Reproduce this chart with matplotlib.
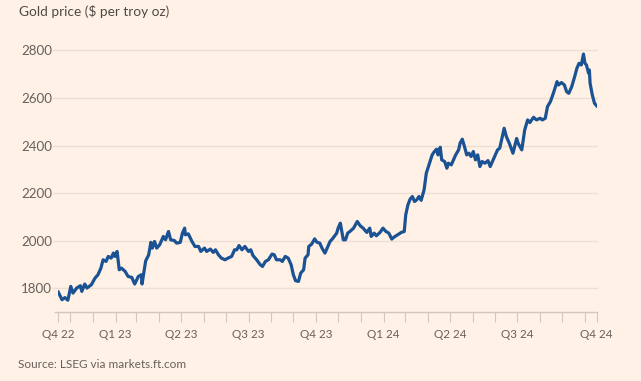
import matplotlib
matplotlib.use("Agg")
import matplotlib.pyplot as plt
import pandas as pd

# ---- data ----
start_date = "2022-11-15"
day_offsets = [0, 5, 9, 13, 17, 20, 25, 30, 32, 36, 39, 45, 50, 54, 58, 61, 65, 68, 72, 75,
               77, 80, 83, 86, 91, 95, 100, 104, 109, 113, 114, 119, 123, 126, 128, 131, 134, 138, 143, 146,
               150, 153, 158, 161, 166, 169, 172, 173, 177, 182, 186, 191, 194, 199, 202, 207, 211, 214, 218, 222,
               227, 231, 236, 240, 243, 246, 250, 254, 259, 262, 265, 270, 275, 278, 282, 286, 291, 294, 297, 302,
               305, 309, 313, 317, 320, 323, 327, 330, 334, 336, 340, 341, 345, 349, 352, 356, 359, 363, 367, 370,
               374, 379, 381, 384, 386, 388, 391, 394, 397, 402, 407, 411, 415, 420, 424, 426, 430, 433, 438, 442,
               446, 450, 454, 457, 462, 467, 471, 473, 476, 479, 482, 485, 488, 491, 494, 498, 501, 506, 509, 512,
               515, 517, 520, 522, 526, 529, 531, 535, 538, 541, 545, 547, 550, 553, 556, 559, 562, 565, 568, 571,
               574, 577, 581, 585, 588, 591, 595, 598, 601, 604, 607, 610, 614, 619, 624, 626, 631, 635, 639, 642,
               647, 651, 656, 659, 663, 666, 670, 674, 679, 681, 685, 689, 692, 695, 699, 703, 706, 709, 712, 715,
               717, 719, 722, 723, 724, 727, 730, 733]
gold_price = [1784, 1752, 1761, 1750, 1808, 1780, 1801, 1811, 1787, 1818, 1801, 1815, 1843, 1857, 1885, 1920, 1913, 1934, 1927, 1948,
              1934, 1955, 1878, 1885, 1871, 1850, 1846, 1818, 1850, 1857, 1818, 1916, 1940, 1993, 1969, 1997, 1969, 1983, 2018, 2004,
              2039, 2004, 2001, 1990, 1993, 2032, 2053, 2025, 2029, 1997, 1976, 1976, 1955, 1969, 1955, 1965, 1951, 1962, 1941, 1927,
              1920, 1927, 1934, 1962, 1962, 1980, 1962, 1976, 1955, 1962, 1938, 1920, 1899, 1892, 1913, 1920, 1944, 1941, 1920, 1920,
              1913, 1934, 1927, 1899, 1857, 1832, 1829, 1864, 1878, 1927, 1941, 1976, 1986, 2008, 1994, 1990, 1969, 1948, 1976, 1997,
              2011, 2032, 2053, 2074, 2039, 2004, 2004, 2032, 2039, 2053, 2081, 2063, 2053, 2035, 2053, 2018, 2032, 2021, 2035, 2053,
              2039, 2032, 2007, 2015, 2025, 2035, 2039, 2109, 2151, 2175, 2186, 2165, 2172, 2186, 2170, 2214, 2284, 2333, 2361, 2375,
              2385, 2361, 2393, 2340, 2333, 2305, 2326, 2319, 2340, 2361, 2382, 2410, 2427, 2396, 2361, 2368, 2354, 2375, 2340, 2361,
              2312, 2333, 2326, 2337, 2312, 2333, 2361, 2382, 2389, 2431, 2473, 2438, 2410, 2368, 2430, 2410, 2382, 2466, 2508, 2497,
              2519, 2508, 2515, 2508, 2515, 2564, 2585, 2620, 2669, 2655, 2665, 2655, 2627, 2620, 2648, 2690, 2725, 2746, 2739, 2785,
              2746, 2739, 2704, 2718, 2662, 2613, 2578, 2567]
y_ticks = [1800, 2000, 2200, 2400, 2600, 2800]
quarter_label_dates = ["2023-02-01", "2023-05-01", "2023-08-01", "2023-11-01",
                       "2024-02-01", "2024-05-01", "2024-08-01"]
quarter_labels = ["Q4 22", "Q1 23", "Q2 23", "Q3 23", "Q4 23", "Q1 24", "Q2 24", "Q3 24", "Q4 24"]
title = "Gold price ($ per troy oz)"
source = "Source: LSEG via markets.ft.com"

dates = pd.Timestamp(start_date) + pd.to_timedelta(day_offsets, unit="D")

# ---- style ----
BG = "#fff1e5"
LINE = "#1a5294"
GRID = "#ecdfd4"
AXIS = "#d3c7bd"
TXT = "#66605c"
FONT = ["Lato", "DejaVu Sans"]
plt.rcParams["font.family"] = FONT

W, H = 641, 381
fig = plt.figure(figsize=(W / 100, H / 100), dpi=100, facecolor=BG)
ax_left, ax_right = 58.3, 596.7
ax_bot_px, ax_top_px = 312.1, 45.7
ax = fig.add_axes([ax_left / W, (H - ax_bot_px) / H, (ax_right - ax_left) / W, (ax_bot_px - ax_top_px) / H])
ax.set_facecolor(BG)

ax.set_xlim(dates[0], dates[-1])
ax.set_ylim(1700, 2820)

axw = ax_right - ax_left
for v in y_ticks:
    ax.axhline(v, xmin=-5 / axw, xmax=1.0 + 0.5 / axw, color=GRID, lw=1.0, clip_on=False, zorder=1)
ax.axhline(1700, xmin=-3 / axw, xmax=1.0 + 0.5 / axw, color=AXIS, lw=1.0, clip_on=False, zorder=2)

ax.plot(dates, gold_price, color=LINE, lw=2.3, solid_joinstyle="round", zorder=3)

for s in ax.spines.values():
    s.set_visible(False)

ax.set_yticks(y_ticks)
ax.set_yticklabels([str(v) for v in y_ticks])
ax.tick_params(axis="y", length=0, pad=4.6, labelsize=9.6, labelcolor=TXT)

major = [dates[0]] + [pd.Timestamp(d) for d in quarter_label_dates] + [dates[-1]]
minor = list(pd.date_range(dates[0], dates[-1], freq="MS"))
ax.set_xticks(major)
ax.set_xticklabels(quarter_labels)
ax.set_xticks(minor, minor=True)
ax.tick_params(axis="x", which="both", length=7, width=0.8, color=AXIS, direction="out")
ax.tick_params(axis="x", which="major", pad=5, labelsize=8.4, labelcolor=TXT)

fig.text(19.3 / W, 1 - 11 / H, title, ha="left", va="center", fontsize=9.8, color="#4f4945")
fig.text(18.4 / W, 1 - 365 / H, source, ha="left", va="center", fontsize=8.5, color=TXT)

fig.savefig("out.png", dpi=100, facecolor=BG)
